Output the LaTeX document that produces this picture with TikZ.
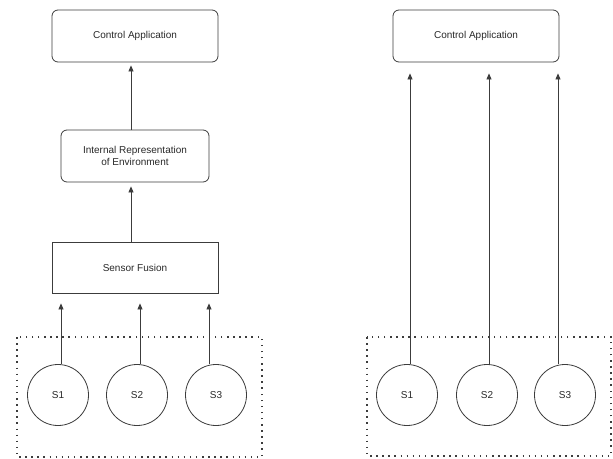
\documentclass[tikz,border=0pt]{standalone}
\usepackage{fontspec}
\setmainfont{Liberation Sans}
\usetikzlibrary{arrows.meta, positioning, calc}
\definecolor{edgegray}{RGB}{60, 60, 60}
\definecolor{textgray}{RGB}{40, 40, 40}

\begin{document}
\begin{tikzpicture}[
    x=1pt, y=-1pt,
    roundbox/.style={rectangle, rounded corners=6pt, draw=edgegray, line width=0.8pt, minimum width=166pt, minimum height=52pt, font=\fontsize{10}{12}\selectfont, text=textgray, align=center},
    plainbox/.style={rectangle, draw=edgegray, line width=0.8pt, minimum width=166pt, minimum height=51pt, font=\fontsize{10}{12}\selectfont, text=textgray, align=center},
    sensor/.style={circle, draw=edgegray, line width=0.8pt, minimum size=61pt, inner sep=0pt, font=\fontsize{10}{12}\selectfont, text=textgray},
    group/.style={draw=edgegray, line width=1.5pt, dash pattern=on 1.5pt off 4.6pt},
    arr/.style={-{Triangle[length=6pt, width=5pt]}, line width=0.8pt, edgegray}
]
\useasboundingbox (0,0) rectangle (613,458);

% ── Left: Sensor Fusion ──
\node[roundbox] (ctrlA) at (135, 36) {Control Application};
\node[roundbox, minimum width=148pt] (env) at (135, 156) {Internal Representation\\of Environment};
\node[plainbox] (fusion) at (135, 267.5) {Sensor Fusion};

% Sensors
\draw[group] (17, 337) rectangle (262, 457);
\node[sensor] (a1) at (58, 395) {S1};
\node[sensor] (a2) at (137, 395) {S2};
\node[sensor] (a3) at (216, 395) {S3};

% Arrows
\draw[arr, shorten >=10pt] ([xshift=3pt]a1.north) -- ([xshift=3pt]a1.north |- fusion.south);
\draw[arr, shorten >=10pt] ([xshift=3pt]a2.north) -- ([xshift=3pt]a2.north |- fusion.south);
\draw[arr, shorten >=10pt] ([xshift=-7pt]a3.north) -- ([xshift=-7pt]a3.north |- fusion.south);
\draw[arr, shorten >=4pt] ([xshift=-4pt]fusion.north) -- ([xshift=-4pt]env.south);
\draw[arr, shorten >=3pt] ([xshift=-4pt]env.north) -- ([xshift=-4pt]ctrlA.south);

% ── Right: Direct ──
\node[roundbox] (ctrlB) at (476, 36) {Control Application};

% Sensors
\draw[group] (367, 337) rectangle (611, 456);
\node[sensor] (b1) at (407, 395) {S1};
\node[sensor] (b2) at (487, 395) {S2};
\node[sensor] (b3) at (565, 395) {S3};

% Arrows
\draw[arr, shorten >=11pt] ([xshift=3pt]b1.north) -- ([xshift=3pt]b1.north |- ctrlB.south);
\draw[arr, shorten >=11pt] ([xshift=2pt]b2.north) -- ([xshift=2pt]b2.north |- ctrlB.south);
\draw[arr, shorten >=11pt] ([xshift=-7pt]b3.north) -- ([xshift=-7pt]b3.north |- ctrlB.south);

\end{tikzpicture}
\end{document}
